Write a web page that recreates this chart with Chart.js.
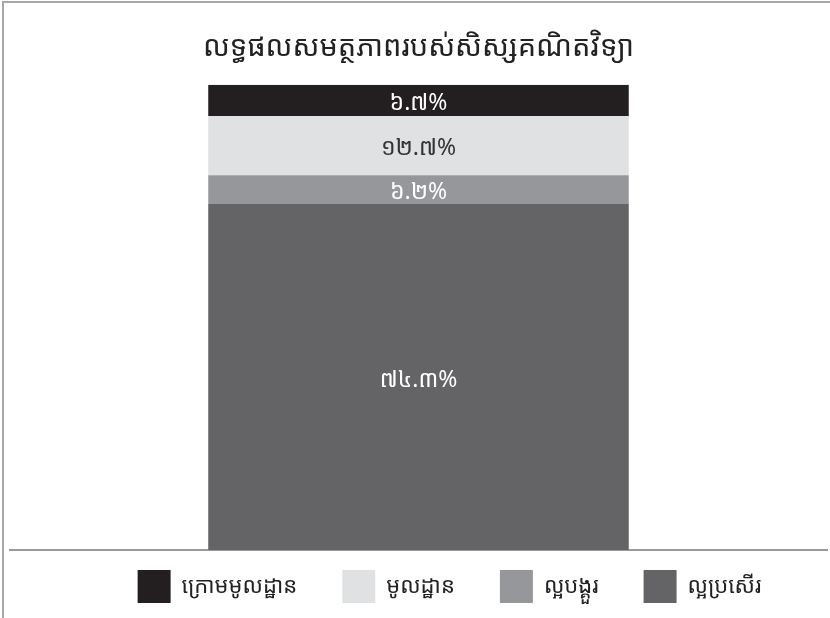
<!DOCTYPE html>
<html><head><meta charset="utf-8">
<script src="https://cdn.jsdelivr.net/npm/chart.js@4/dist/chart.umd.min.js"></script>
<style>
html,body{margin:0;padding:0;background:#fff;}
#wrap{position:absolute;left:0;top:0;width:830px;height:618px;}
#frame{position:absolute;left:2px;top:1px;width:840px;height:640px;border-top:2px solid #a8a8a8;border-left:2px solid #a8a8a8;pointer-events:none;}
</style></head>
<body>
<div id="wrap"><canvas id="c" width="830" height="618"></canvas><div id="frame"></div></div>
<script>
const categories = ["សិស្ស"];
const seriesNames = ["ល្អប្រសើរ", "ល្អបង្គួរ", "មូលដ្ឋាន", "ក្រោមមូលដ្ឋាន"];
const seriesValues = [74.3, 6.2, 12.7, 6.7];
const seriesColors = ["#646466", "#96979a", "#e0e1e2", "#231f20"];
const labelColors = ["#ffffff", "#ffffff", "#333333", "#ffffff"];
const titleText = "លទ្ធផលសមត្ថភាពរបស់សិស្សគណិតវិទ្យា";

const KH = "០១២៣៤៥៦៧៨៩";
function toKhmer(v){ return v.toFixed(1).replace(/[0-9]/g, d => KH[+d]) + "%"; }
const FONT = "'Noto Sans Khmer','Khmer OS','Khmer OS System','Noto Serif Khmer','Noto Sans', sans-serif";

const labelPlugin = {
  id: 'segLabels',
  afterDatasetsDraw(chart){
    const ctx = chart.ctx;
    ctx.save();
    ctx.font = "23px " + FONT;
    ctx.textAlign = "center";
    ctx.textBaseline = "middle";
    chart.data.datasets.forEach((ds, i) => {
      const meta = chart.getDatasetMeta(i);
      meta.data.forEach((bar, j) => {
        const y = (bar.y + bar.base) / 2;
        ctx.fillStyle = labelColors[i];
        ctx.fillText(toKhmer(ds.data[j]), bar.x, y + 3);
      });
    });
    ctx.restore();
  }
};

const SHIFT = 25, LEG_DX = 31;
const legendTweak = {
  id: 'legendTweak',
  afterInit(chart){
    const lg = chart.legend;
    const f = lg.fit;
    lg.fit = function(){ f.call(this); this.height -= SHIFT; };
  },
  afterLayout(chart){
    const lg = chart.legend;
    lg.top -= SHIFT; lg.height += SHIFT;
    lg.left += LEG_DX; lg.right += LEG_DX;
  }
};

const total = seriesValues.reduce((a,b)=>a+b,0);

new Chart(document.getElementById('c'), {
  type: 'bar',
  data: {
    labels: categories,
    datasets: seriesNames.map((n, i) => ({
      label: n,
      data: [seriesValues[i]],
      backgroundColor: seriesColors[i],
      borderWidth: 0,
      categoryPercentage: 1.0,
      barPercentage: 0.5147
    }))
  },
  options: {
    responsive: false,
    animation: false,
    layout: { padding: { left: 10, right: 3, top: 14, bottom: 5 } },
    plugins: {
      title: {
        display: true, text: titleText, color: "#222",
        font: { family: FONT, size: 29, weight: 'normal' },
        padding: { top: 16, bottom: 20 }
      },
      legend: {
        position: 'bottom', reverse: true,
        labels: {
          color: "#222", boxWidth: 33, boxHeight: 33, padding: 45,
          font: { family: FONT, size: 22 }
        }
      },
      tooltip: { enabled: false }
    },
    scales: {
      x: {
        stacked: true,
        grid: { display: false, drawTicks: false },
        border: { display: true, color: "#9a9a9c", width: 2 },
        ticks: { display: false }
      },
      y: {
        stacked: true, min: 0, max: total, display: false
      }
    }
  },
  plugins: [labelPlugin, legendTweak]
});
</script>
</body></html>
